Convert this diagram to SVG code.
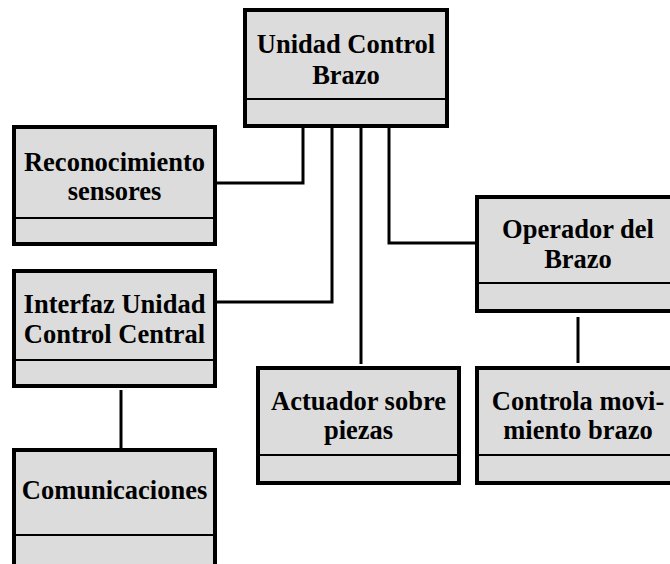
<svg xmlns="http://www.w3.org/2000/svg" width="670" height="564" viewBox="0 0 670 564">
<style>
.box{fill:#dcdcdc;stroke:#000;stroke-width:4}
.div{stroke:#000;stroke-width:2}
.t{font-family:"Liberation Serif","Times New Roman",serif;font-weight:bold;font-size:26.5px;fill:#000;text-anchor:middle}
.c{fill:none;stroke:#000;stroke-width:3}
</style>
<rect width="670" height="564" fill="#fff"/>
<g id="connectors">
<path class="c" d="M303 128 V183 H217"/>
<path class="c" d="M332 128 V302 H217"/>
<path class="c" d="M361 128 V364"/>
<path class="c" d="M389 128 V243 H475"/>
<path class="c" d="M578 317 V363"/>
<path class="c" d="M121 390 V448"/>
</g>
<g id="unidad">
<rect class="box" x="245" y="10" width="202" height="116"/>
<line class="div" x1="245" y1="99" x2="447" y2="99"/>
<text class="t" x="346" y="53">Unidad Control</text>
<text class="t" x="346" y="84">Brazo</text>
</g>
<g id="reconocimiento">
<rect class="box" x="14" y="127" width="201" height="117"/>
<line class="div" x1="14" y1="218" x2="215" y2="218"/>
<text class="t" x="114.5" y="171">Reconocimiento</text>
<text class="t" x="114.5" y="200">sensores</text>
</g>
<g id="interfaz">
<rect class="box" x="14" y="271" width="201" height="115"/>
<line class="div" x1="14" y1="360" x2="215" y2="360"/>
<text class="t" x="114.5" y="313">Interfaz Unidad</text>
<text class="t" x="114.5" y="343">Control Central</text>
</g>
<g id="comunicaciones">
<rect class="box" x="14" y="450" width="201" height="130"/>
<line class="div" x1="14" y1="535" x2="215" y2="535"/>
<text class="t" x="114.5" y="499">Comunicaciones</text>
</g>
<g id="operador">
<rect class="box" x="477" y="197" width="202" height="114"/>
<line class="div" x1="477" y1="283" x2="679" y2="283"/>
<text class="t" x="578" y="238">Operador del</text>
<text class="t" x="578" y="268">Brazo</text>
</g>
<g id="actuador">
<rect class="box" x="258" y="368" width="201" height="115"/>
<line class="div" x1="258" y1="455" x2="459" y2="455"/>
<text class="t" x="358.5" y="410">Actuador sobre</text>
<text class="t" x="358.5" y="439">piezas</text>
</g>
<g id="controla">
<rect class="box" x="477" y="368" width="202" height="115"/>
<line class="div" x1="477" y1="455" x2="679" y2="455"/>
<text class="t" x="578" y="410">Controla movi-</text>
<text class="t" x="578" y="439">miento brazo</text>
</g>
</svg>
